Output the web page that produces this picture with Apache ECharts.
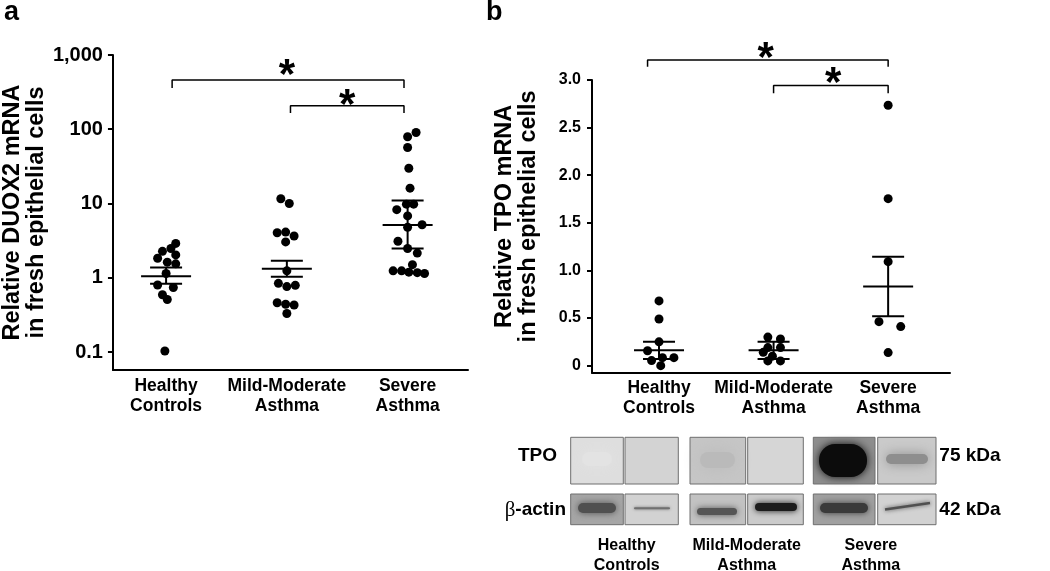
<!DOCTYPE html>
<html><head><meta charset="utf-8">
<script src="https://cdn.jsdelivr.net/npm/echarts@6/dist/echarts.min.js"></script>
<style>html,body{margin:0;padding:0;background:#fff}#c{width:1050px;height:571px}</style>
</head><body><div id="c"></div>
<script>
// ---------- data ----------
const categories = ['Healthy\nControls', 'Mild-Moderate\nAsthma', 'Severe\nAsthma'];
const groupPos = [0, 1, 2];

// Panel a: relative DUOX2 mRNA (log scale)
const duox2Healthy = [2.9, 2.48, 2.27, 2.03, 1.83, 1.62, 1.54, 1.14, 0.80, 0.74, 0.59, 0.51, 0.103];
const duox2HealthyJitter = [0.08, 0.04, -0.03, 0.08, -0.07, 0.01, 0.08, 0, -0.07, 0.06, -0.03, 0.01, -0.01];
const duox2Mild = [11.6, 10.0, 4.03, 4.12, 3.65, 3.04, 1.24, 0.84, 0.76, 0.79, 0.46, 0.44, 0.43, 0.33];
const duox2MildJitter = [-0.05, 0.02, -0.08, -0.01, 0.06, -0.01, 0, -0.07, 0, 0.07, -0.08, -0.01, 0.06, 0];
const duox2Severe = [90.5, 79.2, 56.8, 29.8, 16.1, 9.8, 9.8, 8.26, 6.81, 5.18, 4.79, 3.10, 2.48, 2.15, 1.50, 1.24, 1.24, 1.19, 1.17, 1.14];
const duox2SevereJitter = [0.07, 0, 0, 0.01, 0.02, -0.01, 0.05, -0.09, 0, 0.12, 0, -0.08, 0, 0.08, 0.04, -0.12, -0.05, 0.01, 0.08, 0.14];
// mean, lower SEM, upper SEM per group
const duox2Mean = [1.05, 1.32, 5.13];
const duox2Lower = [0.83, 1.03, 2.48];
const duox2Upper = [1.37, 1.70, 11.0];
const duox2Ticks = [0.1, 1, 10, 100, 1000];

// Panel b: relative TPO mRNA (linear)
const tpoHealthy = [0.68, 0.49, 0.25, 0.157, 0.053, 0.084, 0.084, 0.0];
const tpoHealthyJitter = [0, 0, 0, -0.10, -0.065, 0.03, 0.13, 0.015];
const tpoMild = [0.30, 0.28, 0.19, 0.19, 0.14, 0.10, 0.05, 0.05];
const tpoMildJitter = [-0.05, 0.06, -0.05, 0.06, -0.09, -0.01, -0.05, 0.06];
const tpoSevere = [2.735, 1.754, 1.092, 0.462, 0.41, 0.137];
const tpoSevereJitter = [0, 0, 0, -0.08, 0.11, 0];
const tpoMean = [0.162, 0.162, 0.83];
const tpoLower = [0.07, 0.07, 0.519];
const tpoUpper = [0.252, 0.252, 1.145];
const tpoTicks = [0, 0.5, 1.0, 1.5, 2.0, 2.5, 3.0];

// significance brackets: [xStart, xEnd, yTop, yTickEnd]
const bracketsA = [[0.05, 1.97, 460, 359], [1.03, 1.97, 208, 166]];
const starsA = [[1.0, 733], [1.5, 289]];
const bracketsB = [[-0.10, 2.0, 3.211, 3.138], [1.0, 2.0, 2.941, 2.861]];
const starsB = [[0.93, 3.334], [1.52, 3.064]];

// ---------- helpers ----------
const FONT = "'Liberation Sans', Arial, sans-serif";
function pts(vals, jit, g) { return vals.map((v, i) => [groupPos[g] + jit[i], v]); }
function summary(mean, lo, hi) { return mean.map((m, i) => [groupPos[i], m, lo[i], hi[i]]); }
function scatterSeries(data, idx) {
  return { type: 'scatter', xAxisIndex: idx, yAxisIndex: idx, data, symbol: 'circle', symbolSize: 9,
    itemStyle: { color: '#000', opacity: 1 }, clip: false, z: 3 };
}
function summarySeries(data, idx) {
  return { type: 'custom', xAxisIndex: idx, yAxisIndex: idx, data, z: 4, clip: false,
    renderItem(params, api) {
      const x = api.value(0);
      const pm = api.coord([x, api.value(1)]);
      const pl = api.coord([x, api.value(2)]);
      const ph = api.coord([x, api.value(3)]);
      const st = { stroke: '#000', lineWidth: 2 };
      return { type: 'group', children: [
        { type: 'line', shape: { x1: pm[0] - 25, y1: pm[1], x2: pm[0] + 25, y2: pm[1] }, style: st },
        { type: 'line', shape: { x1: ph[0] - 16, y1: ph[1], x2: ph[0] + 16, y2: ph[1] }, style: st },
        { type: 'line', shape: { x1: pl[0] - 16, y1: pl[1], x2: pl[0] + 16, y2: pl[1] }, style: st },
        { type: 'line', shape: { x1: pm[0], y1: pl[1], x2: pm[0], y2: ph[1] }, style: st }
      ]};
    }
  };
}
function bracketSeries(b, idx) {
  return { type: 'line', xAxisIndex: idx, yAxisIndex: idx, symbol: 'none', clip: false, z: 2,
    lineStyle: { color: '#000', width: 1.5 },
    data: [[b[0], b[3]], [b[0], b[2]], [b[1], b[2]], [b[1], b[3]]] };
}
function starSeries(s, idx) {
  return { type: 'scatter', xAxisIndex: idx, yAxisIndex: idx, data: s, symbolSize: 0.1,
    itemStyle: { color: '#000', opacity: 1 }, clip: false, z: 5,
    label: { show: true, position: 'inside', formatter: '*', fontSize: 42, fontWeight: 'bold',
      fontFamily: FONT, color: '#000', opacity: 1, offset: [0, 11] } };
}

const axisLineStyle = { onZero: false, lineStyle: { color: '#000', width: 2 } };
const xLabel = {
  customValues: groupPos, formatter: v => categories[Math.round(v)],
  fontFamily: FONT, fontWeight: 'bold', fontSize: 17.5, color: '#000', lineHeight: 20, margin: 6
};

// ---------- blot graphics ----------
const blotBoxes = [[570.7, 623.3], [625, 678.3], [690, 745.7], [747.7, 803.3], [813.3, 875], [877.7, 936]];
const tpoRow = [437.3, 484], actRow = [494, 524.7];
const tpoBg = ['#dedede', '#d3d3d3', '#c6c6c6', '#d6d6d6', '#8e8e8e', '#cacaca'];
const actBg = ['#a6a6a6', '#d2d2d2', '#c2c2c2', '#cbcbcb', '#a0a0a0', '#d2d2d2'];
const g = [];
function box(x0, x1, y0, y1, fill) {
  g.push({ type: 'rect', shape: { x: x0, y: y0, width: x1 - x0, height: y1 - y0 }, style: { fill }, z: 1 });
}
function band(x0, x1, y0, y1, fill, blur, r) {
  g.push({ type: 'rect', shape: { x: x0, y: y0, width: x1 - x0, height: y1 - y0, r: r || 0 },
    style: { fill, shadowBlur: blur, shadowColor: fill }, z: 2 });
}
function border(x0, x1, y0, y1) {
  g.push({ type: 'rect', shape: { x: x0, y: y0, width: x1 - x0, height: y1 - y0 },
    style: { fill: null, stroke: '#6e6e6e', lineWidth: 1 }, z: 4 });
}
blotBoxes.forEach((b, i) => { box(b[0], b[1], tpoRow[0], tpoRow[1], tpoBg[i]); box(b[0], b[1], actRow[0], actRow[1], actBg[i]); });
// TPO bands
band(582, 612, 452, 466, '#e3e3e3', 16, 8);
band(700, 735, 452, 468, '#bababa', 18, 8);
band(819, 867, 444, 477, '#0c0c0c', 8, 16);
band(886, 928, 454, 464, '#8e8e8e', 12, 5);
// beta-actin bands
band(578, 616, 503, 513, '#505050', 7, 5);
band(634, 670, 507.2, 509.2, '#707070', 3, 1);
band(697, 737, 508, 515, '#555555', 6, 4);
band(755, 797, 503, 511, '#1c1c1c', 6, 4);
band(820, 868, 503, 513, '#3a3a3a', 6, 5);
g.push({ type: 'line', shape: { x1: 885, y1: 509.5, x2: 930, y2: 503 },
  style: { stroke: '#505050', lineWidth: 2.5, shadowBlur: 4, shadowColor: '#505050' }, z: 2 });
blotBoxes.forEach(b => { border(b[0], b[1], tpoRow[0], tpoRow[1]); border(b[0], b[1], actRow[0], actRow[1]); });

function txt(text, x, y, size, align) {
  g.push({ type: 'text', x, y, z: 6,
    style: { text, fill: '#000', font: `bold ${size}px ${FONT}`, textAlign: align || 'center', textVerticalAlign: 'middle', lineHeight: 20 } });
}
txt('a', 4, 13, 27, 'left');
txt('b', 486, 13, 27, 'left');
txt('TPO', 537.5, 456, 19);
g.push({ type: 'text', x: 566, y: 510, z: 6, style: {
  text: '{s|β}-actin', textAlign: 'right', textVerticalAlign: 'middle', fill: '#000',
  font: `bold 19px ${FONT}`,
  rich: { s: { fontFamily: "'Liberation Serif', serif", fontWeight: 'normal', fontSize: 21, fill: '#000' } } } });
txt('75 kDa', 970, 456, 19);
txt('42 kDa', 970, 510, 19);
txt('Healthy\nControls', 626.7, 556, 16);
txt('Mild-Moderate\nAsthma', 746.7, 556, 16);
txt('Severe\nAsthma', 870.8, 556, 16);

// ---------- chart ----------
const chart = echarts.init(document.getElementById('c'), null, { renderer: 'canvas' });
chart.setOption({
  animation: false,
  backgroundColor: '#fff',
  grid: [
    { left: 109, top: 55, width: 359, height: 315 },
    { left: 592, top: 80, width: 358, height: 292.7 }
  ],
  xAxis: [
    { gridIndex: 0, type: 'value', min: -0.44, max: 2.5, axisLine: axisLineStyle, axisTick: { show: false },
      splitLine: { show: false }, axisLabel: xLabel },
    { gridIndex: 1, type: 'value', min: -0.585, max: 2.54, axisLine: axisLineStyle, axisTick: { show: false },
      splitLine: { show: false }, axisLabel: Object.assign({}, xLabel, { margin: 5 }) }
  ],
  yAxis: [
    { gridIndex: 0, type: 'log', logBase: 10, min: 0.05722, max: 1000,
      axisLine: Object.assign({ show: true }, axisLineStyle),
      axisTick: { show: true, customValues: duox2Ticks, length: 5, lineStyle: { color: '#000', width: 2 } },
      splitLine: { show: false },
      axisLabel: { customValues: duox2Ticks, margin: 10, fontFamily: FONT, fontWeight: 'bold', fontSize: 20, color: '#000',
        formatter: v => v >= 1000 ? '1,000' : String(v) },
      name: 'Relative DUOX2 mRNA\nin fresh epithelial cells', nameLocation: 'middle', nameRotate: 90, nameGap: 62,
      nameTextStyle: { fontFamily: FONT, fontWeight: 'bold', fontSize: 23.5, color: '#000', lineHeight: 24 } },
    { gridIndex: 1, type: 'value', min: -0.074, max: 3.0,
      axisLine: Object.assign({ show: true }, axisLineStyle),
      axisTick: { show: true, customValues: tpoTicks, length: 5, lineStyle: { color: '#000', width: 2 } },
      splitLine: { show: false },
      axisLabel: { customValues: tpoTicks, margin: 11, fontFamily: FONT, fontWeight: 'bold', fontSize: 16, color: '#000',
        formatter: v => v === 0 ? '0' : v.toFixed(1) },
      name: 'Relative TPO mRNA\nin fresh epithelial cells', nameLocation: 'middle', nameRotate: 90, nameGap: 51,
      nameTextStyle: { fontFamily: FONT, fontWeight: 'bold', fontSize: 23.5, color: '#000', lineHeight: 24,
        padding: [0, 0, 0, 20] } }
  ],
  series: [
    scatterSeries(pts(duox2Healthy, duox2HealthyJitter, 0), 0),
    scatterSeries(pts(duox2Mild, duox2MildJitter, 1), 0),
    scatterSeries(pts(duox2Severe, duox2SevereJitter, 2), 0),
    summarySeries(summary(duox2Mean, duox2Lower, duox2Upper), 0),
    bracketSeries(bracketsA[0], 0), bracketSeries(bracketsA[1], 0),
    starSeries(starsA, 0),
    scatterSeries(pts(tpoHealthy, tpoHealthyJitter, 0), 1),
    scatterSeries(pts(tpoMild, tpoMildJitter, 1), 1),
    scatterSeries(pts(tpoSevere, tpoSevereJitter, 2), 1),
    summarySeries(summary(tpoMean, tpoLower, tpoUpper), 1),
    bracketSeries(bracketsB[0], 1), bracketSeries(bracketsB[1], 1),
    starSeries(starsB, 1)
  ],
  graphic: g
});
</script>
</body></html>
